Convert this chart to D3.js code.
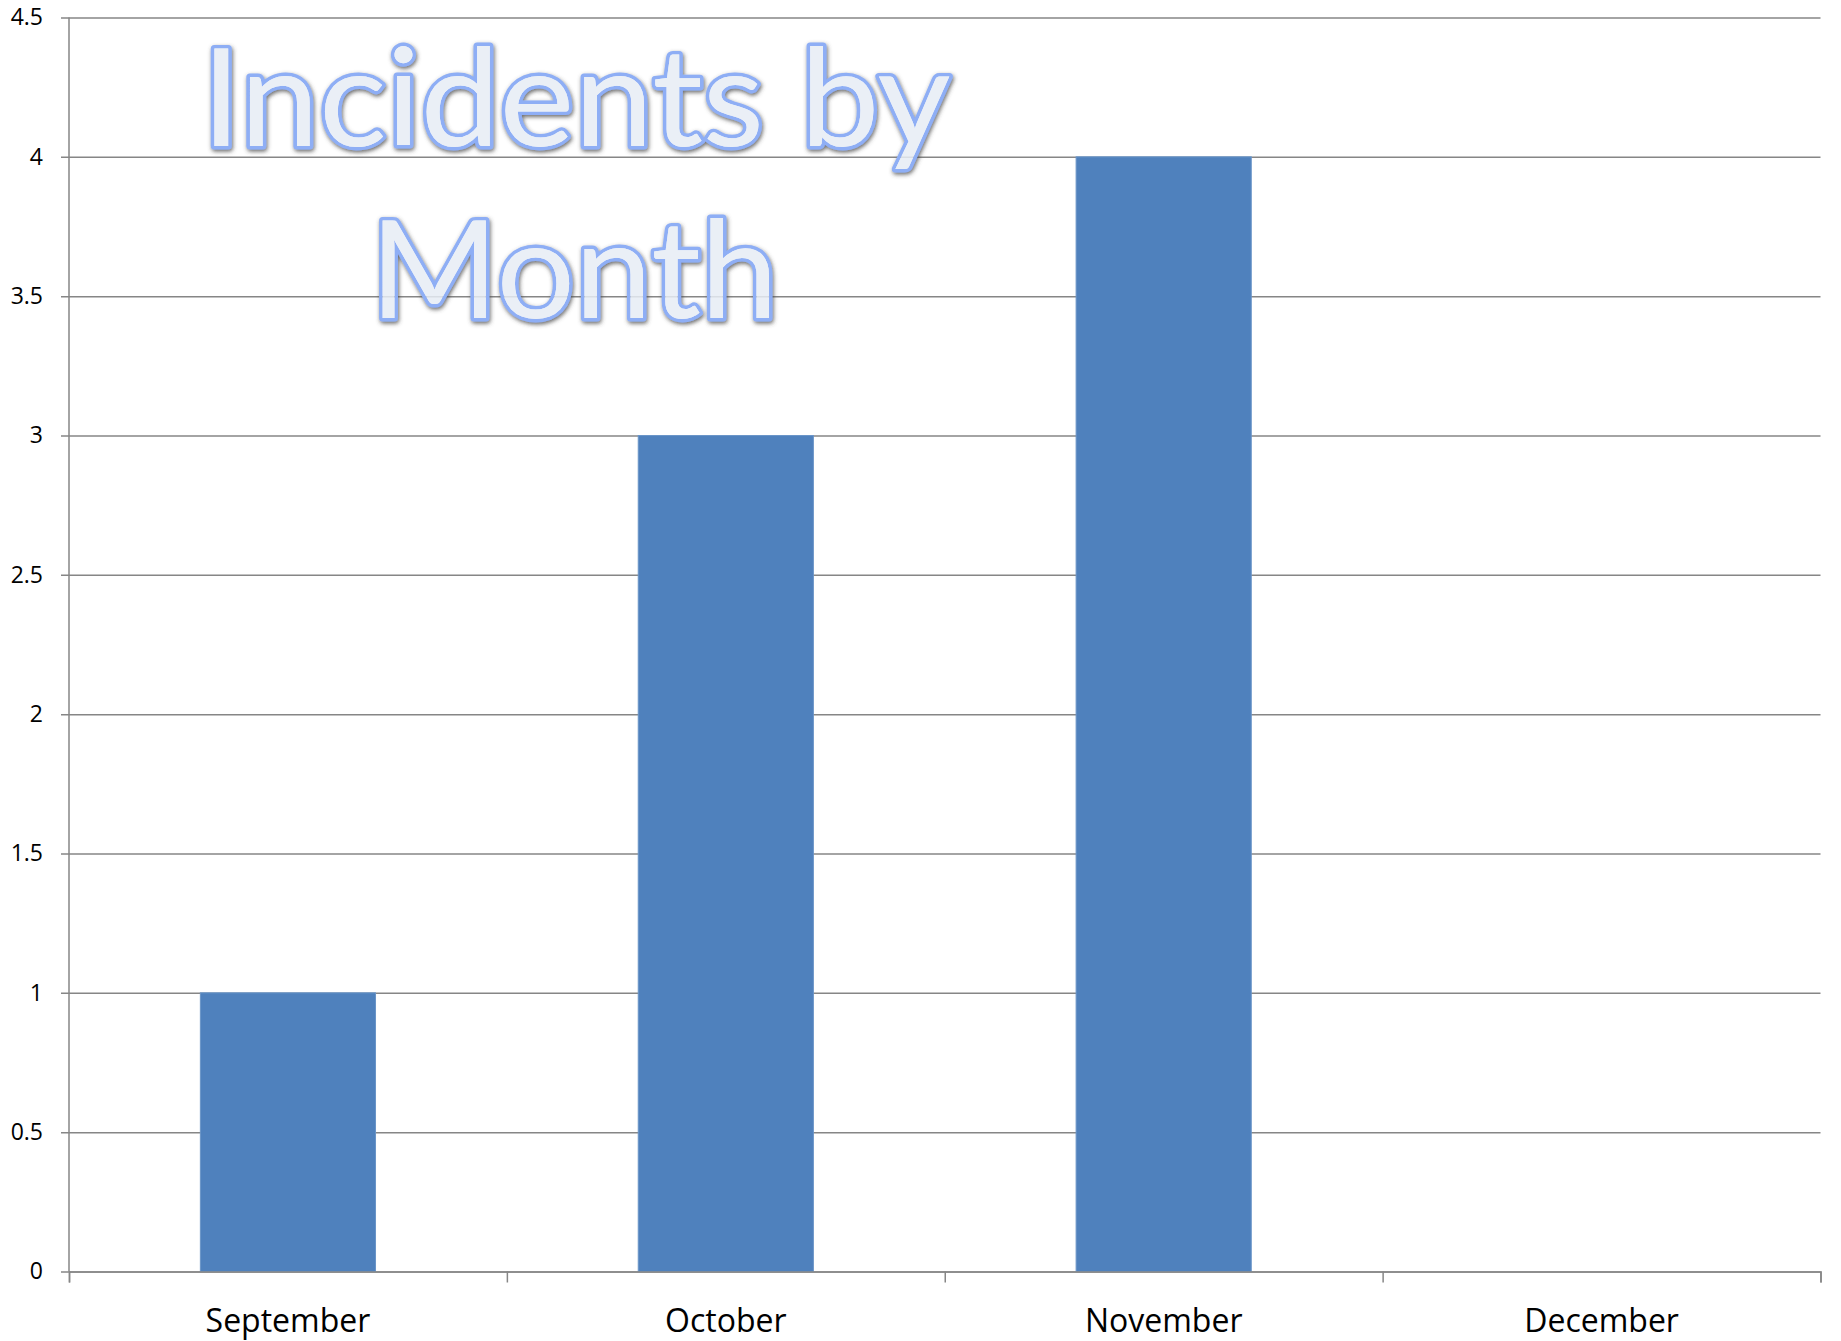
<!DOCTYPE html>
<html>
<head>
<meta charset="utf-8">
<script src="https://cdnjs.cloudflare.com/ajax/libs/d3/7.8.5/d3.min.js"></script>
<style>
  body { margin: 0; background: #fff; }
  .tick text { font-family: "Open Sans", sans-serif; fill: #000; }
  .title { font-family: Lato, sans-serif; font-weight: 400; font-size: 136px; }
</style>
</head>
<body>
<svg id="chart"></svg>
<script>
// data
var months = ["September", "October", "November", "December"];
var incidents = [1, 3, 4, 0];
var yTicks = [0, 0.5, 1, 1.5, 2, 2.5, 3, 3.5, 4, 4.5];
var titleLines = ["Incidents by", "Month"];

var W = 1841, H = 1341;
var margin = { top: 17.5, right: 20.5, bottom: 69.5, left: 69 };
var width = W - margin.left - margin.right;
var height = H - margin.top - margin.bottom;
var gridColor = "#868686";

var svg = d3.select("#chart").attr("width", W).attr("height", H);

var defs = svg.append("defs");
var f = defs.append("filter").attr("id", "shadow")
  .attr("x", "-10%").attr("y", "-20%").attr("width", "120%").attr("height", "150%");
f.append("feDropShadow").attr("dx", 1).attr("dy", 2).attr("stdDeviation", 2.2)
  .attr("flood-color", "#444").attr("flood-opacity", 0.8);

var g = svg.append("g").attr("transform", "translate(" + margin.left + "," + margin.top + ")");

var y = d3.scaleLinear().domain([0, 4.5]).range([height, 0]);
var x = d3.scaleBand().domain(months).range([0, width]).paddingInner(0.6).paddingOuter(0.3);
var xEdge = d3.scaleLinear().domain([0, months.length]).range([0, width]);

//gridlines + y ticks, one axis
var yAxis = g.append("g")
  .call(d3.axisLeft(y).tickValues(yTicks).tickSize(8).tickPadding(18)
    .tickFormat(function (d) { return d; }));
yAxis.select(".domain").remove();
yAxis.selectAll(".tick line")
  .attr("x1", -8).attr("x2", width)
  .attr("stroke", gridColor).attr("stroke-width", 1.5);
yAxis.selectAll(".tick text").style("font-size", "23px");

//bars
g.selectAll("rect.bar")
  .data(months.map(function (m, i) { return { month: m, value: incidents[i] }; }))
  .enter().append("rect")
  .attr("class", "bar")
  .attr("x", function (d) { return x(d.month); })
  .attr("width", x.bandwidth())
  .attr("y", function (d) { return y(d.value); })
  .attr("height", function (d) { return height - y(d.value); })
  .attr("fill", "#4F81BD")
  .attr("stroke", "#6a95c8").attr("stroke-width", 1);

//y axis line
g.append("line")
  .attr("x1", 0).attr("x2", 0).attr("y1", 0).attr("y2", height)
  .attr("stroke", gridColor).attr("stroke-width", 1.5);

//x axis: boundary ticks
var xTicks = g.append("g").attr("transform", "translate(0," + height + ")")
  .call(d3.axisBottom(xEdge).tickValues(d3.range(months.length + 1)).tickSize(11).tickFormat(""));
xTicks.select(".domain").attr("stroke", gridColor).attr("stroke-width", 1.5);
xTicks.selectAll(".tick line").attr("stroke", gridColor).attr("stroke-width", 1.5);

//x labels
var xLabels = g.append("g").attr("transform", "translate(0," + height + ")")
  .call(d3.axisBottom(x).tickSize(0).tickPadding(38));
xLabels.select(".domain").remove();
xLabels.selectAll(".tick text").style("font-size", "32px");

//title (word-art style): outline only outside the glyphs, translucent fill on top
var titleX = [576, 574], titleY = [146, 318], titleW = [749, 408];
function titleText(sel) {
  sel.selectAll("text")
    .data(titleLines)
    .enter().append("text")
    .attr("class", "title")
    .attr("x", function (d, i) { return titleX[i]; })
    .attr("y", function (d, i) { return titleY[i]; })
    .attr("text-anchor", "middle")
    .attr("textLength", function (d, i) { return titleW[i]; })
    .attr("lengthAdjust", "spacingAndGlyphs")
    .text(function (d) { return d; });
}
var mask = defs.append("mask").attr("id", "outside")
  .attr("maskUnits", "userSpaceOnUse").attr("x", 0).attr("y", 0).attr("width", W).attr("height", H);
mask.append("rect").attr("width", W).attr("height", H).attr("fill", "#fff");
mask.append("g").attr("fill", "#000").call(titleText);

var title = svg.append("g");
title.append("g").attr("filter", "url(#shadow)").attr("mask", "url(#outside)")
  .append("g")
  .attr("fill", "none").attr("stroke", "#8EAEF5").attr("stroke-width", 7)
  .attr("stroke-linejoin", "round")
  .call(titleText);
title.append("g").attr("fill", "#E6ECF5").attr("fill-opacity", 0.85)
  .call(titleText);
</script>
</body>
</html>
